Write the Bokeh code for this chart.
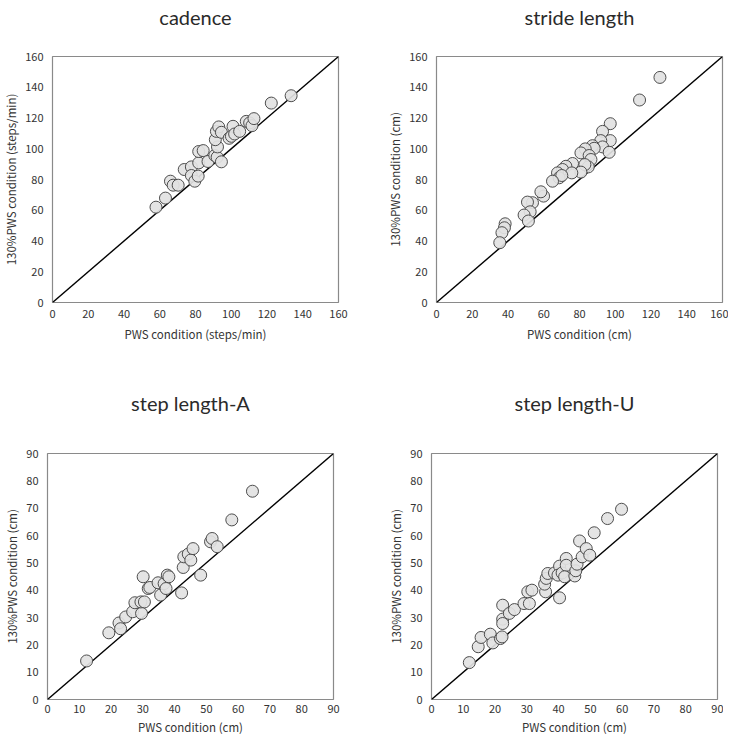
from bokeh.plotting import figure
from bokeh.models import Range1d, FixedTicker, Title
from bokeh.layouts import column, row
from bokeh.embed import file_html
from bokeh.resources import INLINE

# ---- data ----
cadence_pws = [57.9, 63.2, 66.0, 67.5, 70.3, 73.7, 77.7, 77.7, 79.6, 81.5, 81.8, 81.8, 84.3,
               87.0, 90.8, 92.1, 92.3, 94.5, 91.1, 91.7, 93.0, 94.5, 98.8, 100.1, 101.0,
               101.9, 104.7, 108.4, 110.3, 111.6, 112.7, 122.4, 133.5]
cadence_130 = [62.0, 67.9, 78.9, 76.3, 76.3, 86.5, 88.2, 82.6, 78.9, 82.2, 90.8, 98.2, 98.8,
               91.7, 95.6, 94.5, 101.2, 91.5, 105.9, 111.3, 114.2, 110.7, 106.8, 108.1, 114.6,
               109.6, 111.3, 117.8, 116.8, 115.0, 119.6, 129.7, 134.5]

stride_pws = [125.0, 113.6, 97.2, 92.9, 97.2, 91.9, 92.9, 96.6, 87.3, 88.2, 83.2, 80.8, 85.4,
              86.4, 84.9, 83.0, 80.8, 76.1, 72.4, 70.5, 75.7, 67.7, 68.6, 70.1, 64.9, 59.9,
              58.4, 53.7, 50.9, 52.4, 49.0, 51.4, 38.4, 38.0, 36.6, 35.4]
stride_130 = [146.4, 131.7, 116.3, 111.3, 105.3, 105.3, 101.2, 97.7, 102.0, 100.3, 99.9, 97.3,
              95.6, 93.0, 88.2, 89.7, 84.8, 90.4, 88.6, 86.5, 84.3, 84.3, 81.1, 82.6, 78.9,
              69.2, 72.0, 64.9, 65.3, 59.0, 56.9, 53.0, 51.2, 48.6, 45.4, 38.9]

stepA_pws = [12.3, 19.3, 22.5, 23.0, 24.6, 26.8, 27.5, 29.6, 29.4, 30.1, 30.5, 31.7, 32.2,
             34.8, 35.6, 36.7, 37.3, 37.7, 38.2, 42.2, 42.7, 42.9, 44.3, 45.1, 45.8, 48.2,
             51.3, 51.8, 53.4, 58.0, 64.5]
stepA_130 = [14.1, 24.4, 28.0, 25.9, 30.2, 32.1, 35.4, 31.5, 35.7, 44.9, 35.7, 40.6, 41.0,
             42.7, 38.2, 42.4, 40.6, 45.5, 44.9, 39.0, 48.3, 52.2, 53.2, 51.0, 55.2, 45.5,
             57.7, 58.9, 55.9, 65.7, 76.2]

stepU_pws = [11.9, 14.7, 15.6, 18.5, 19.3, 21.7, 22.2, 22.4, 22.4, 22.4, 24.5, 26.1, 29.1,
             30.8, 30.3, 31.6, 35.9, 35.6, 36.1, 36.6, 38.7, 40.3, 40.3, 39.8, 41.1, 42.4,
             42.4, 41.9, 45.1, 45.4, 45.8, 46.6, 47.4, 48.7, 49.8, 51.2, 55.4, 59.8]
stepU_130 = [13.5, 19.3, 22.7, 23.9, 20.7, 22.3, 22.9, 29.4, 27.8, 34.5, 31.5, 32.9, 35.1,
             35.1, 39.4, 40.0, 39.4, 42.2, 44.3, 46.1, 46.3, 37.2, 48.8, 45.5, 46.3, 51.6,
             49.1, 44.9, 45.2, 47.1, 49.5, 58.0, 52.2, 55.2, 52.8, 61.0, 66.2, 69.6]

ticks_160 = [0, 20, 40, 60, 80, 100, 120, 140, 160]
ticks_90 = [0, 10, 20, 30, 40, 50, 60, 70, 80, 90]

titles = ["cadence", "stride length", "step length-A", "step length-U"]
x_labels = ["PWS condition (steps/min)", "PWS condition (cm)", "PWS condition (cm)", "PWS condition (cm)"]
y_labels = ["130%PWS condition (steps/min)", "130%PWS condition (cm)",
            "130%PWS condition (cm)", "130%PWS condition (cm)"]

FONT = "Noto Sans CJK JP"
TFONT = "Lato"
FW, FH = 286, 246


def make(title, xlab, ylab, xs, ys, ticks, left, right, bottom,
         spacer, xl_standoff, xa_standoff):
    p = figure(frame_width=FW, frame_height=FH,
               x_range=Range1d(ticks[0], ticks[-1]), y_range=Range1d(ticks[0], ticks[-1]),
               output_backend="svg", toolbar_location=None,
               min_border_left=left, min_border_right=right,
               min_border_top=0, min_border_bottom=bottom)
    p.title.text = title
    p.title.align = "center"
    p.title.text_font = TFONT
    p.title.text_font_size = "20px"
    p.title.text_font_style = "normal"
    p.title.text_color = "#2a2a2a"
    p.title.standoff = 4
    # empty spacer between the title and the frame
    p.add_layout(Title(text=" ", text_font_size="10px", standoff=spacer), "above")
    p.grid.visible = False
    p.outline_line_color = "#8a8a8a"
    p.outline_line_width = 1.2
    for ax in (p.xaxis, p.yaxis):
        ax.ticker = FixedTicker(ticks=ticks)
        ax.axis_line_color = None
        ax.major_tick_line_color = None
        ax.minor_tick_line_color = None
        ax.major_tick_out = 0
        ax.major_tick_in = 0
        ax.major_label_text_font = FONT
        ax.major_label_text_font_size = "11px"
        ax.major_label_text_color = "#333333"
        ax.axis_label_text_font = FONT
        ax.axis_label_text_font_size = "11.5px"
        ax.axis_label_text_font_style = "normal"
        ax.axis_label_text_color = "#333333"
    p.xaxis.axis_label = xlab
    p.yaxis.axis_label = ylab
    p.xaxis.major_label_standoff = xl_standoff
    p.xaxis.axis_label_standoff = xa_standoff
    p.yaxis.major_label_standoff = 9
    p.yaxis.axis_label_standoff = 3
    p.line([ticks[0], ticks[-1]], [ticks[0], ticks[-1]], line_color="black", line_width=1.4)
    p.scatter(xs, ys, size=12, fill_color="#e2e2e2", fill_alpha=0.92,
              line_color="#4d4d4d", line_width=1)
    return p


p1 = make(titles[0], x_labels[0], y_labels[0], cadence_pws, cadence_130, ticks_160,
          47, 44, 84, 13, 7, 5)
p2 = make(titles[1], x_labels[1], y_labels[1], stride_pws, stride_130, ticks_160,
          54, 6, 84, 13, 7, 5)
p3 = make(titles[2], x_labels[2], y_labels[2], stepA_pws, stepA_130, ticks_90,
          47, 44, 34, 24, 5, 3)
p4 = make(titles[3], x_labels[3], y_labels[3], stepU_pws, stepU_130, ticks_90,
          54, 6, 34, 24, 5, 3)

layout = column(row(p1, p2), row(p3, p4))

open("out.html", "w").write(file_html(layout, INLINE))
